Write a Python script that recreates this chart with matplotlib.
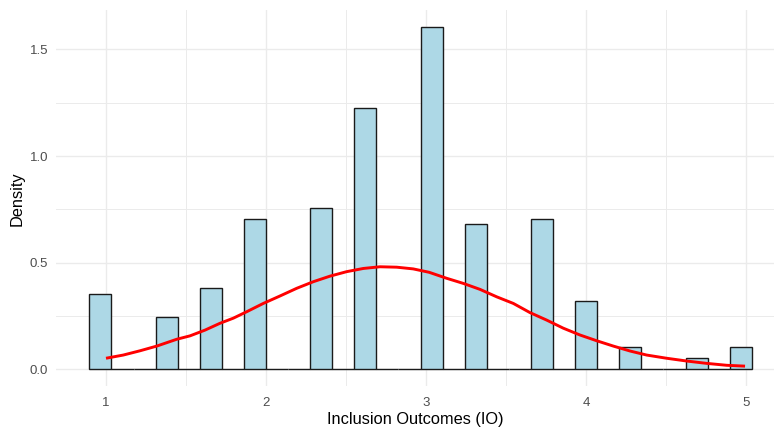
import numpy as np
import matplotlib
matplotlib.use("Agg")
import matplotlib.pyplot as plt
from matplotlib.ticker import MultipleLocator

# ---- data ----
bin_start = 0.896
bin_width = 0.138
densities = [0.352, 0, 0, 0.245, 0, 0.383, 0, 0.705, 0, 0,
             0.758, 0, 1.224, 0, 0, 1.605, 0, 0.680, 0, 0,
             0.705, 0, 0.322, 0, 0.106, 0, 0, 0.053, 0, 0.106]
curve_x = [1.0, 1.108, 1.2125, 1.317, 1.442, 1.525, 1.619, 1.7125, 1.796,
           1.879, 1.983, 2.0875, 2.192, 2.296, 2.4, 2.504, 2.608, 2.7125,
           2.817, 2.92, 3.02, 3.129, 3.233, 3.3375, 3.442, 3.546, 3.65,
           3.754, 3.858, 3.9625, 4.067, 4.171, 4.275, 4.379, 4.504, 4.629,
           4.754, 4.879, 4.994]
curve_y = [0.052, 0.067, 0.087, 0.109, 0.141, 0.157, 0.184, 0.216, 0.240,
           0.270, 0.309, 0.344, 0.380, 0.411, 0.437, 0.458, 0.473, 0.481,
           0.479, 0.471, 0.455, 0.427, 0.403, 0.375, 0.340, 0.309, 0.266,
           0.231, 0.193, 0.161, 0.134, 0.109, 0.086, 0.067, 0.052, 0.039,
           0.028, 0.019, 0.015]
x_ticks = [1, 2, 3, 4, 5]
y_ticks = [0.0, 0.5, 1.0, 1.5]
y_tick_labels = ["0.0", "0.5", "1.0", "1.5"]
x_label = "Inclusion Outcomes (IO)"
y_label = "Density"

plt.rcParams['font.family'] = ['Liberation Sans', 'DejaVu Sans']

W, H = 774, 432
fig = plt.figure(figsize=(W / 100, H / 100), dpi=100)
left, right, top, bottom = 56, 774, 10, 386.4
ax = fig.add_axes([left / W, (H - bottom) / H, (right - left) / W, (bottom - top) / H])

centers = bin_start + bin_width * (np.arange(len(densities)) + 0.5)
ax.bar(centers, densities, width=bin_width, color="#ADD8E6",
       edgecolor="#1a1a1a", linewidth=1.0, zorder=2)
ax.plot(curve_x, curve_y, color="red", linewidth=2.1, zorder=3,
        solid_capstyle="butt", solid_joinstyle="round")

ax.set_xlim(0.6875, 5.175)
ax.set_ylim(-0.08, 1.685)
ax.set_xticks(x_ticks)
ax.set_xticklabels([str(t) for t in x_ticks])
ax.set_yticks(y_ticks)
ax.set_yticklabels(y_tick_labels)
ax.xaxis.set_minor_locator(MultipleLocator(0.5))
ax.yaxis.set_minor_locator(MultipleLocator(0.25))

ax.grid(which="major", color="#EBEBEB", linewidth=1.0, zorder=0)
ax.grid(which="minor", color="#EBEBEB", linewidth=0.7, zorder=0)
ax.set_axisbelow(True)
for s in ax.spines.values():
    s.set_visible(False)
ax.tick_params(which="both", length=0)
ax.tick_params(axis="x", pad=7.5, labelsize=9.5, labelcolor="#4D4D4D")
ax.tick_params(axis="y", pad=5.5, labelsize=9.5, labelcolor="#4D4D4D")

ax.set_xlabel(x_label, fontsize=11.8, color="black", labelpad=2)
ax.set_ylabel(y_label, fontsize=11.8, color="black", labelpad=4)

fig.savefig("out.png", dpi=100)
